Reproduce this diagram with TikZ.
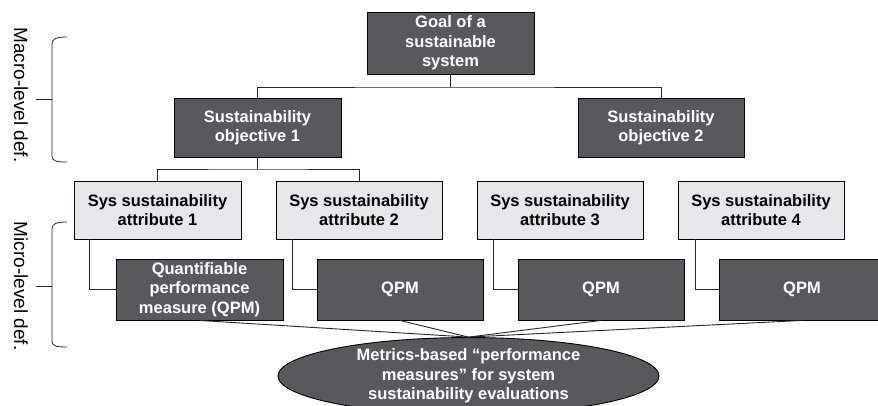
\documentclass[tikz,border=0pt]{standalone}
\usepackage{fontspec}
\setmainfont{Liberation Sans}
\usetikzlibrary{shapes.geometric,calc}
\definecolor{darkbox}{HTML}{58595B}
\definecolor{lightbox}{HTML}{E6E7E8}
\tikzset{
  boxbase/.style={draw=black, line width=0.9pt, inner sep=0pt, align=center,
    font=\fontsize{16.5}{19.5}\selectfont\bfseries},
  darkbox/.style={boxbase, fill=darkbox, text=white},
  lightbox/.style={boxbase, fill=lightbox, text=black},
  conn/.style={draw=black!85, line width=0.9pt},
  sidelabel/.style={font=\fontsize{19}{22}\selectfont, rotate=-90, inner sep=0pt},
}
\begin{document}
\begin{tikzpicture}[x=1pt,y=-1pt]
\useasboundingbox (0,0) rectangle (878,406);
% nodes
\node[darkbox, minimum width=167, minimum height=62] (goal) at (450.5,43) {Goal of a\\sustainable\\system};
\node[darkbox, minimum width=167, minimum height=59] (obj1) at (257.5,127.5) {Sustainability\\objective 1};
\node[darkbox, minimum width=166, minimum height=59] (obj2) at (661,127.5) {Sustainability\\objective 2};
\node[lightbox, minimum width=167, minimum height=58] (attr1) at (157.5,210) {Sys sustainability\\attribute 1};
\node[lightbox, minimum width=166, minimum height=58] (attr2) at (359,210) {Sys sustainability\\attribute 2};
\node[lightbox, minimum width=166, minimum height=58] (attr3) at (560,210) {Sys sustainability\\attribute 3};
\node[lightbox, minimum width=166, minimum height=58] (attr4) at (761,210) {Sys sustainability\\attribute 4};
\node[darkbox, minimum width=167, minimum height=61] (qpm1) at (199.5,289.5) {Quantifiable\\performance\\measure (QPM)};
\node[darkbox, minimum width=166, minimum height=61] (qpm2) at (400,289.5) {QPM};
\node[darkbox, minimum width=166, minimum height=61] (qpm3) at (601,289.5) {QPM};
\node[darkbox, minimum width=166, minimum height=61] (qpm4) at (802,289.5) {QPM};
\node[darkbox, ellipse, minimum width=381, minimum height=76] (metrics) at (468.5,376)
  {Metrics-based “performance\\measures” for system\\sustainability evaluations};
% tree connectors
\coordinate (gj) at (450.5,87);
\coordinate (oj) at (257.5,169);
\draw[conn] (goal.south) -- (gj);
\draw[conn] (obj1.north) |- (gj) -| (obj2.north);
\draw[conn] (obj1.south) -- (oj);
\draw[conn] (attr1.north) |- (oj) -| (attr2.north);
\draw[conn] ($(attr1.south west)+(16,0)$) |- (qpm1.west);
\draw[conn] ($(attr2.south west)+(17,0)$) |- (qpm2.west);
\draw[conn] ($(attr3.south west)+(17,0)$) |- (qpm3.west);
\draw[conn] ($(attr4.south west)+(18,0)$) |- (qpm4.west);
\foreach \q in {qpm1,qpm2,qpm3,qpm4}
  \draw[conn] (\q.south) -- (metrics.north);
% brackets
\draw[conn, line width=0.8pt] (67,37) .. controls (56,37) and (52,39) .. (52,44) -- (52,156) .. controls (52,161) and (56,162) .. (67,162);
\draw[conn, line width=0.8pt] (36,99) -- (52,99);
\draw[conn, line width=0.8pt] (67,222) .. controls (56,222) and (52,224) .. (52,229) -- (52,341) .. controls (52,346) and (56,347) .. (67,347);
\draw[conn, line width=0.8pt] (36,286) -- (52,286);
\node[sidelabel] (macro) at (21,95) {Macro-level def.};
\node[sidelabel] (micro) at (21,286) {Micro-level def.};
\end{tikzpicture}
\end{document}
